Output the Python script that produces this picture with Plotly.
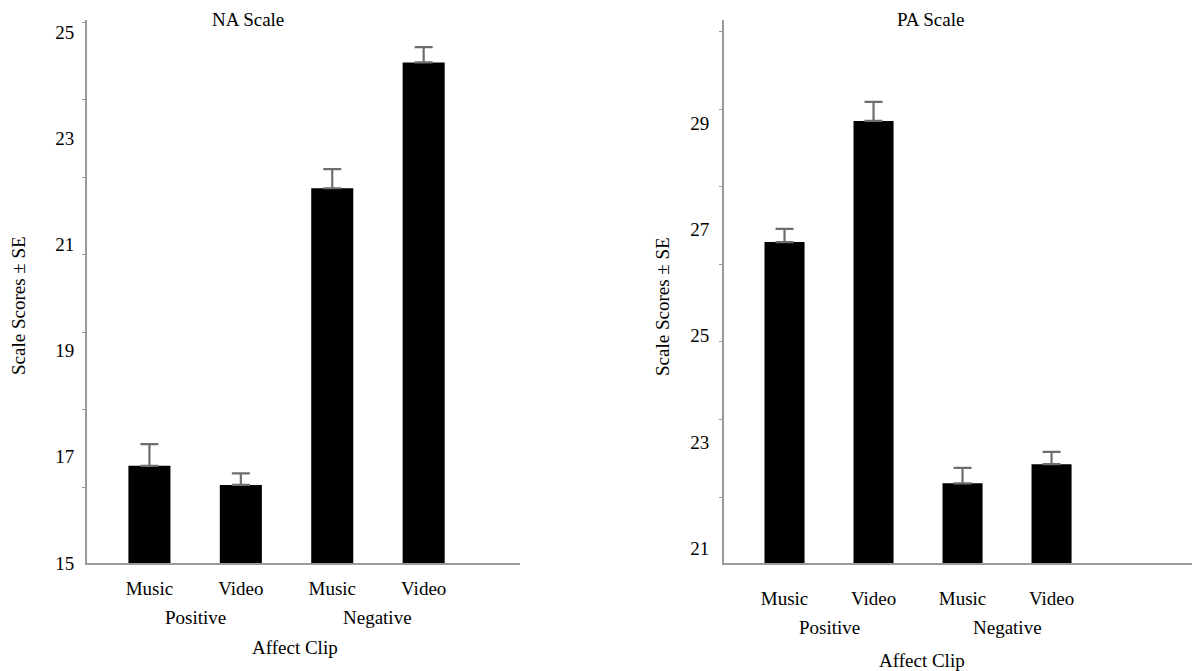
import plotly.graph_objects as go

# ---- data ----
valence = ["Positive", "Positive", "Negative", "Negative"]
clip = ["Music", "Video", "Music", "Video"]
na_mean = [16.83, 16.47, 22.06, 24.43]
na_se = [0.41, 0.22, 0.36, 0.29]
pa_mean = [26.76, 29.04, 22.22, 22.58]
pa_se = [0.25, 0.36, 0.29, 0.23]
na_ticks = [15, 17, 19, 21, 23, 25]
pa_ticks = [21, 23, 25, 27, 29]
groups = ["Positive", "Negative"]

cats = [f"{v} {c}" for v, c in zip(valence, clip)]

W, H = 1192, 671
FONT = "Liberation Serif, Times New Roman, serif"
FS = 19
AXC = "#9a9a9a"

def px(x):
    return x / W

def py(y):
    return 1 - y / H

fig = go.Figure()

for mean, se, xa, ya, bw in [(na_mean, na_se, "x", "y", 0.46), (pa_mean, pa_se, "x2", "y2", 0.45)]:
    fig.add_trace(go.Bar(
        x=cats, y=mean, xaxis=xa, yaxis=ya, width=bw,
        marker=dict(color="black", line=dict(width=0)),
        error_y=dict(type="data", symmetric=False, array=se, arrayminus=[0] * len(se),
                     color="#6e6e6e", thickness=2.2, width=9),
        showlegend=False,
    ))

common_x = dict(type="category", showgrid=False, zeroline=False, showline=True,
                linecolor=AXC, linewidth=2, ticks="", automargin=False,
                tickfont=dict(family=FONT, size=FS, color="black"),
                tickvals=cats, ticktext=clip)
common_y = dict(showgrid=False, zeroline=False, showline=True, linecolor=AXC, linewidth=2,
                ticks="", automargin=False, tickfont=dict(family=FONT, size=FS, color="black"))

ydom = [py(563), py(20)]
fig.update_layout(
    width=W, height=H, margin=dict(l=0, r=0, t=0, b=0, autoexpand=False),
    paper_bgcolor="white", plot_bgcolor="white", bargap=0.5,
    xaxis=dict(common_x, domain=[px(87), px(520)], range=[-0.683, 4.054],
               anchor="y", ticklabelstandoff=7),
    yaxis=dict(common_y, domain=ydom, range=[15, 25.23], anchor="x",
               tickvals=na_ticks, ticklabelstandoff=7,
               minor=dict(ticks="outside", ticklen=3, tickcolor=AXC, tick0=16.43, dtick=1.46)),
    xaxis2=dict(common_x, domain=[px(724), 1.0], range=[-0.680, 4.578],
                anchor="y2", ticklabelstandoff=17),
    yaxis2=dict(common_y, domain=ydom, range=[20.72, 30.94], anchor="x2",
                tickvals=pa_ticks, ticklabelstandoff=9,
                minor=dict(ticks="outside", ticklen=3, tickcolor=AXC, tick0=20.5, dtick=1.46)),
)

ann = []
f = dict(family=FONT, size=FS, color="black")
# titles
ann.append(dict(text="NA Scale", x=px(248), y=py(20), xref="paper", yref="paper",
                showarrow=False, font=f, xanchor="center", yanchor="middle"))
ann.append(dict(text="PA Scale", x=px(930), y=py(20), xref="paper", yref="paper",
                showarrow=False, font=f, xanchor="center", yanchor="middle"))
# y titles
for xp in [18, 662]:
    ann.append(dict(text="Scale Scores ± SE", x=px(xp), y=py(306), xref="paper", yref="paper",
                    textangle=-90, showarrow=False, font=f, xanchor="center", yanchor="middle"))
# group labels
for xa, ypix in [("x", 617), ("x2", 627)]:
    for i, g in enumerate(groups):
        ann.append(dict(text=g, x=2 * i + 0.5, y=py(ypix), xref=xa, yref="paper",
                        showarrow=False, font=f, xanchor="center", yanchor="middle"))
# axis titles
ann.append(dict(text="Affect Clip", x=px(295), y=py(647), xref="paper", yref="paper",
                showarrow=False, font=f, xanchor="center", yanchor="middle"))
ann.append(dict(text="Affect Clip", x=px(922), y=py(660), xref="paper", yref="paper",
                showarrow=False, font=f, xanchor="center", yanchor="middle"))
fig.update_layout(annotations=ann)

fig.write_html("out.html", config={"displayModeBar": False},
               post_script="document.body.style.margin='0';document.body.style.overflow='hidden';")
